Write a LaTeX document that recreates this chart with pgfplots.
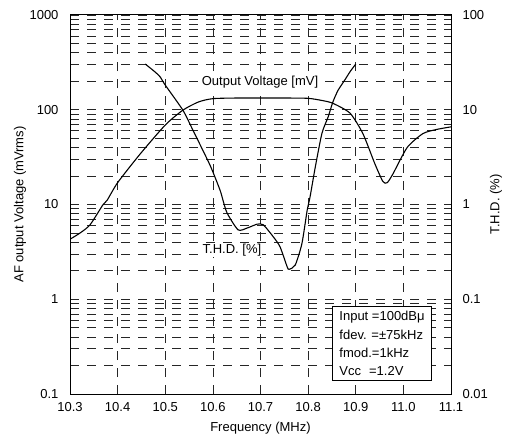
\documentclass[border=0pt]{standalone}
\usepackage{pgfplots}
\pgfplotsset{compat=1.18}
\usepackage{fontspec}
\setmainfont{Liberation Sans}
\begin{document}
\fontsize{13}{15.6}\selectfont
\begin{tikzpicture}
\begin{axis}[name=main, scale only axis, width=381pt, height=379pt,
  font=\fontsize{13}{15.6}\selectfont,
  /pgf/number format/assume math mode=true,
  xmin=10.3, xmax=11.1, ymode=log, ymin=0.1, ymax=1000,
  xtick={10.3,10.4,10.5,10.6,10.7,10.8,10.9,11.0,11.1},
  xticklabels={10.3,10.4,10.5,10.6,10.7,10.8,10.9,11.0,11.1},
  ytick={0.1,1,10,100,1000}, yticklabels={0.1,1,10,100,1000},
  minor ytick={0.2,0.3,0.4,0.5,0.6,0.7,0.8,0.9,2,3,4,5,6,7,8,9,20,30,40,50,60,70,80,90,200,300,400,500,600,700,800,900},
  major tick length=0pt, minor tick length=0pt,
  xmajorgrids, ymajorgrids, yminorgrids,
  major grid style={black!85, line width=0.7pt, dash pattern=on 9pt off 8pt},
  minor grid style={black!85, line width=0.7pt, dash pattern=on 9pt off 8pt},
  axis line style={line width=1pt},
  yticklabel style={xshift=-7pt},
  xticklabel style={yshift=-4pt},
  xlabel={Frequency (MHz)}, ylabel={AF output Voltage (mVrms)},
  every axis x label/.style={at={(axis description cs:0.5,-0.09)}, anchor=center},
  every axis y label/.style={at={(axis description cs:-0.131,0.5)}, rotate=90, anchor=center},
]
\addplot[black, line width=1.1pt, smooth, tension=0.4] coordinates {
(10.300,4.3) (10.321,5.0) (10.342,6.1) (10.369,9.9) (10.378,11.1) (10.400,17)
(10.447,34) (10.500,69) (10.537,99) (10.570,121) (10.600,131) (10.650,133)
(10.700,133) (10.750,133) (10.800,132) (10.830,125) (10.852,117) (10.888,92)
(10.915,56) (10.940,27) (10.957,17.5) (10.966,17) (10.978,21) (11.008,40)
(11.041,56) (11.070,62) (11.100,66)};
\node[fill=white, inner sep=1pt] at (axis cs:10.699,196) {Output Voltage [mV]};
\node[fill=white, inner sep=1pt] at (axis cs:10.640,3.31) {T.H.D. [\%]};
\node[draw, line width=1pt, fill=white, anchor=north west, align=left,
  inner xsep=7pt, inner ysep=5pt, font=\fontsize{13}{18.3}\selectfont]
  at (axis cs:10.850,0.849) {Input =100dBμ\\fdev. =±75kHz\\fmod.=1kHz\\Vcc\hspace{8pt}=1.2V};
\end{axis}
\begin{axis}[scale only axis, width=381pt, height=379pt,
  font=\fontsize{13}{15.6}\selectfont,
  /pgf/number format/assume math mode=true,
  xmin=10.3, xmax=11.1, ymode=log, ymin=0.01, ymax=100,
  axis x line=none, axis y line*=right,
  ytick={0.01,0.1,1,10,100}, yticklabels={0.01,0.1,1,10,100},
  major tick length=0pt, minor tick length=0pt, minor ytick={},
  axis line style={line width=1pt},
  yticklabel style={xshift=7pt},
  ylabel={T.H.D. (\%)},
  every axis y label/.style={at={(axis description cs:1.118,0.5)}, rotate=90, anchor=center},
]
\addplot[black, line width=1.1pt, smooth, tension=0.4] coordinates {
(10.458,30.4) (10.478,25.2) (10.489,22.3) (10.500,18.2) (10.537,9.9) (10.558,6.1)
(10.594,2.6) (10.615,1.42) (10.621,1.12) (10.630,0.81) (10.653,0.54) (10.672,0.565)
(10.693,0.62) (10.706,0.61) (10.727,0.455) (10.741,0.358) (10.756,0.22) (10.760,0.207)
(10.773,0.23) (10.787,0.388) (10.798,0.87) (10.804,1.2) (10.815,2.48) (10.829,5.64)
(10.842,8.4) (10.852,12.1) (10.863,16.1) (10.877,20.6) (10.888,25.2) (10.900,30.4)};
\end{axis}
\pgfresetboundingbox
\path[use as bounding box] ([shift={(-70pt,-47pt)}]main.south west) rectangle ([shift={(55pt,15pt)}]main.north east);
\end{tikzpicture}
\end{document}
